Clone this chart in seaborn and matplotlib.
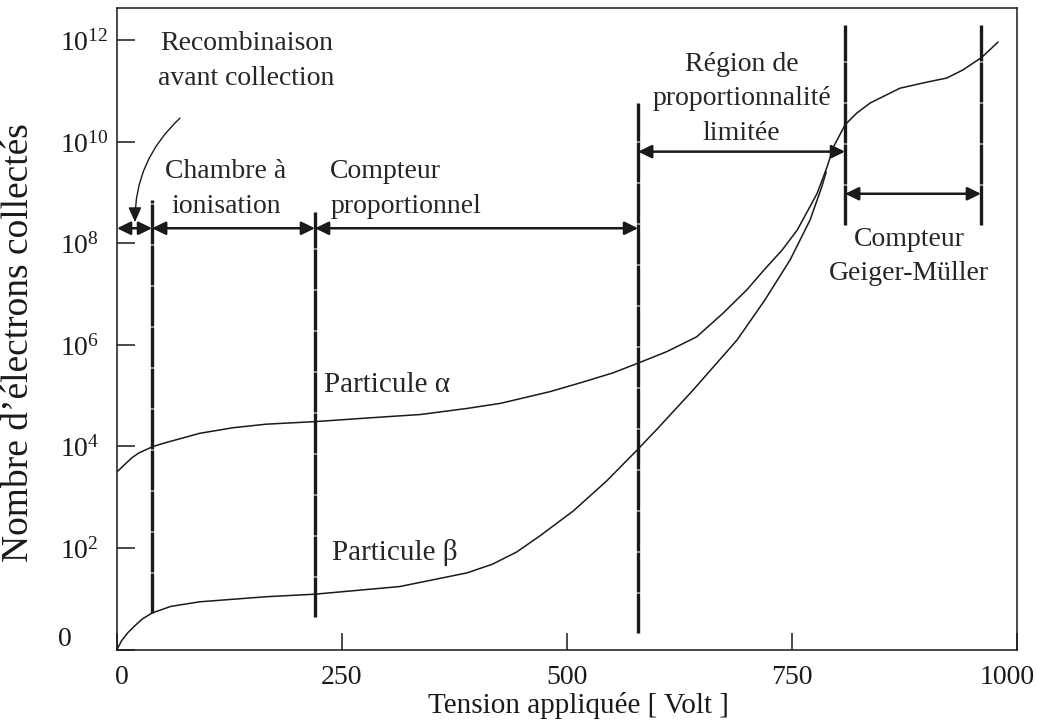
import numpy as np
import pandas as pd
import matplotlib
matplotlib.use("Agg")
import matplotlib.pyplot as plt
import matplotlib.transforms as mtransforms
from matplotlib.ticker import NullLocator
import seaborn as sns

# ---------------- data (applied voltage [V], log10 of collected electrons) ----------------
alpha_volt = [0, 16, 24, 40, 55, 92, 129, 166, 220, 277, 337, 389, 426, 481, 514, 551, 580,
              611, 644, 673, 700, 718, 739, 756, 778, 789, 796, 809, 822, 837, 870, 900,
              922, 940, 961, 979]
alpha_log = [3.50, 3.77, 3.87, 4.00, 4.08, 4.26, 4.37, 4.44, 4.49, 4.56, 4.63, 4.75, 4.85,
             5.08, 5.25, 5.45, 5.65, 5.87, 6.16, 6.62, 7.09, 7.46, 7.87, 8.27, 8.99, 9.51,
             9.90, 10.34, 10.57, 10.77, 11.06, 11.18, 11.26, 11.42, 11.67, 11.97]

beta_volt = [0, 5, 12, 20, 28, 39, 60, 92, 166, 220, 314, 389, 417, 444, 470, 507, 544,
             579, 601, 640, 689, 720, 748, 770, 783, 788]
beta_log = [0.0, 0.17, 0.33, 0.47, 0.60, 0.72, 0.85, 0.94, 1.04, 1.09, 1.24, 1.51, 1.68,
            1.92, 2.24, 2.73, 3.32, 3.95, 4.36, 5.11, 6.10, 6.89, 7.68, 8.46, 9.11, 9.41]

# region boundaries (voltage) and vertical extent of the boundary lines (log10)
bound_volt = [39, 220, 579, 809, 960]
bound_lo = [0.72, 0.64, 0.33, 8.36, 8.36]
bound_hi = [8.86, 8.62, 10.77, 12.31, 12.31]

# double arrows spanning each region: start V, end V, level (log10)
arrow_start = [0, 39, 220, 579, 809]
arrow_end = [39, 220, 579, 809, 960]
arrow_level = [8.3, 8.3, 8.3, 9.81, 8.98]

x_ticks = [0, 250, 500, 750, 1000]
y_exps = [0, 2, 4, 6, 8, 10, 12]
y_labels = ["0"] + [r"$\mathregular{10^{%d}}$" % e for e in y_exps[1:]]

region_texts = ["Recombinaison\navant collection", "Chambre à\nionisation",
                "Compteur\nproportionnel", "Région de\nproportionnalité\nlimitée",
                "Compteur\nGeiger-Müller", "Particule α", "Particule β"]

# ---------------- style ----------------
sns.set_theme(style="white")
plt.rcParams["font.family"] = ["Liberation Serif", "DejaVu Serif"]
plt.rcParams["mathtext.fontset"] = "custom"
plt.rcParams["mathtext.rm"] = "Liberation Serif"
plt.rcParams["mathtext.it"] = "Liberation Serif:italic"
plt.rcParams["mathtext.bf"] = "Liberation Serif:bold"

FS = 20
LS = 1.5

fig = plt.figure(figsize=(10.38, 7.24), dpi=100)
ax = fig.add_axes([117 / 1038, 1 - 649.5 / 724, 900 / 1038, 641.5 / 724])
ax.set_yscale("log")

df_a = pd.DataFrame({"V": alpha_volt, "N": 10.0 ** np.array(alpha_log)})
df_b = pd.DataFrame({"V": beta_volt, "N": 10.0 ** np.array(beta_log)})
sns.lineplot(data=df_a, x="V", y="N", ax=ax, color="k", lw=1.1, estimator=None, sort=False)
sns.lineplot(data=df_b, x="V", y="N", ax=ax, color="k", lw=1.1, estimator=None, sort=False)

# region boundaries
ax.vlines(bound_volt, 10.0 ** np.array(bound_lo), 10.0 ** np.array(bound_hi),
          colors="k", lw=2.4, linestyles=(0, (12, 0.3)))

# double arrows
for s, e, lv in zip(arrow_start, arrow_end, arrow_level):
    ax.annotate("", xy=(e, 10.0 ** lv), xytext=(s, 10.0 ** lv),
                arrowprops=dict(arrowstyle="<|-|>,head_length=0.45,head_width=0.22",
                                lw=1.8, color="k", shrinkA=0, shrinkB=0,
                                mutation_scale=18))

# curved arrow for recombination
ax.annotate("", xy=(20, 10.0 ** 8.42), xytext=(70, 10.0 ** 10.47),
            arrowprops=dict(arrowstyle="-|>,head_length=0.5,head_width=0.22",
                            connectionstyle="arc3,rad=0.22", lw=1.0, color="k",
                            shrinkA=0, shrinkB=0, mutation_scale=18))

# texts
ax.text(144, 10 ** 11.60, region_texts[0], ha="center", va="center", fontsize=FS, linespacing=LS)
ax.text(121, 10 ** 9.07, region_texts[1], ha="center", va="center", fontsize=FS, linespacing=LS)
ax.text(237, 10 ** 9.07, region_texts[2], ha="left", va="center", fontsize=FS, linespacing=LS)
ax.text(694, 10 ** 10.85, region_texts[3], ha="center", va="center", fontsize=FS, linespacing=LS)
ax.text(880, 10 ** 7.74, region_texts[4], ha="center", va="center", fontsize=FS, linespacing=LS)
ax.text(230, 10 ** 5.21, region_texts[5], ha="left", va="center", fontsize=21)
ax.text(239, 10 ** 1.92, region_texts[6], ha="left", va="center", fontsize=21)

# axes
ax.set_xlim(0, 1000)
ax.set_ylim(1, 10 ** 12.64)
ax.set_xticks(x_ticks)
ax.set_xticklabels([str(t) for t in x_ticks])
ax.set_yticks([10.0 ** e for e in y_exps])
ax.set_yticklabels(y_labels)
ax.yaxis.set_minor_locator(NullLocator())
ax.xaxis.set_minor_locator(NullLocator())
ax.tick_params(axis="both", direction="in", color="k", width=1.1, labelsize=FS,
               bottom=True, left=True, top=False, right=False, labelcolor="k")
ax.tick_params(axis="y", length=13, pad=41)
ax.tick_params(axis="x", length=12, pad=11)
for lab in ax.get_yticklabels():
    lab.set_horizontalalignment("left")
lab0 = ax.get_yticklabels()[0]
lab0.set_transform(lab0.get_transform() +
                   mtransforms.ScaledTranslation(-0.02, 0.13, fig.dpi_scale_trans))
xl0 = ax.get_xticklabels()[0]
xl0.set_transform(xl0.get_transform() +
                  mtransforms.ScaledTranslation(0.05, 0, fig.dpi_scale_trans))
xl_last = ax.get_xticklabels()[-1]
xl_last.set_transform(xl_last.get_transform() +
                      mtransforms.ScaledTranslation(-0.10, 0, fig.dpi_scale_trans))

for sp in ax.spines.values():
    sp.set_color("k")
    sp.set_linewidth(1.1)
    sp.set_visible(True)

ax.set_xlabel("Tension appliquée [ Volt ]", fontsize=21, color="k")
ax.xaxis.set_label_coords(0.513, -0.066)
ax.set_ylabel("Nombre d’électrons collectés", fontsize=27, color="k")
ax.yaxis.set_label_coords(-0.09, 0.479)

fig.savefig("out.png", dpi=100)
